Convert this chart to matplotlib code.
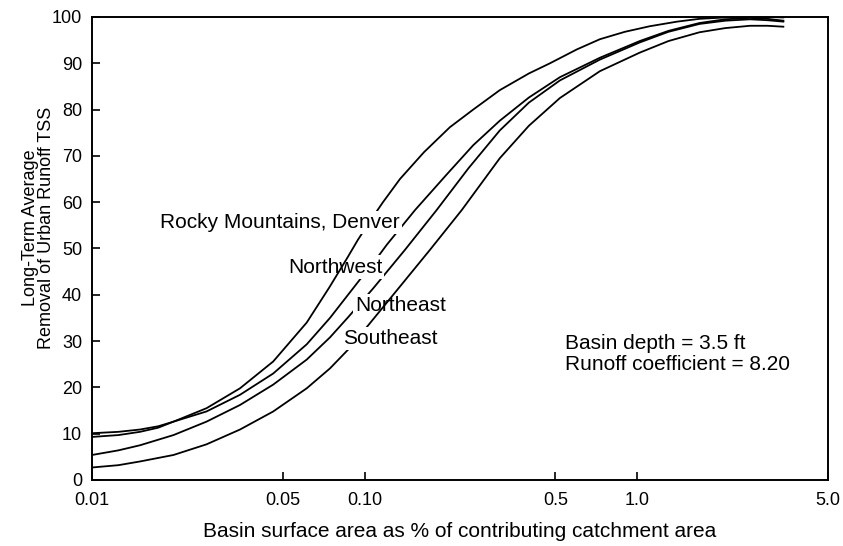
import numpy as np
import matplotlib
matplotlib.use('Agg')
import matplotlib.pyplot as plt

plt.rcParams['font.family'] = ['Liberation Sans', 'DejaVu Sans']

# values (x = % of catchment, y = % TSS removal)
rocky_x = [0.01, 0.0125, 0.015, 0.0175, 0.0199, 0.0263, 0.0349, 0.0462, 0.0613, 0.0742,
           0.086, 0.0945, 0.106, 0.1167, 0.1347, 0.165, 0.2054, 0.25, 0.313, 0.4, 0.478,
           0.6, 0.729, 0.9, 1.11, 1.4, 1.69, 2.1, 2.59, 3.0, 3.43]
rocky_y = [9.3, 9.7, 10.4, 11.3, 12.6, 15.5, 19.8, 25.6, 34.0, 41.6,
           47.8, 51.9, 56.4, 60.0, 65.0, 70.8, 76.2, 80.0, 84.2, 87.8, 90.0,
           93.0, 95.2, 96.8, 98.0, 99.0, 99.6, 99.9, 100.0, 100.0, 99.9]

northwest_x = [0.01, 0.0125, 0.015, 0.0175, 0.0199, 0.0263, 0.0349, 0.0462, 0.0613, 0.0746,
               0.0961, 0.108, 0.1205, 0.153, 0.2, 0.25, 0.313, 0.4, 0.52, 0.729, 1.02,
               1.3, 1.69, 2.1, 2.59, 3.0, 3.43]
northwest_y = [10.1, 10.4, 10.9, 11.6, 12.6, 14.8, 18.4, 23.0, 29.3, 35.0,
               43.3, 47.0, 50.8, 58.3, 66.0, 72.3, 77.6, 82.6, 87.0, 91.2, 94.8,
               97.0, 98.7, 99.5, 99.8, 99.6, 99.2]

northeast_x = [0.01, 0.0125, 0.015, 0.0199, 0.0263, 0.0349, 0.0462, 0.0613, 0.0746, 0.0871,
               0.1075, 0.1405, 0.1836, 0.24, 0.313, 0.4, 0.52, 0.729, 1.02, 1.3, 1.69,
               2.1, 2.59, 3.0, 3.43]
northeast_y = [5.4, 6.4, 7.5, 9.7, 12.6, 16.2, 20.6, 26.0, 30.8, 35.2,
               41.4, 49.7, 58.3, 67.3, 75.5, 81.5, 86.3, 90.8, 94.5, 96.8, 98.5,
               99.2, 99.5, 99.3, 99.0]

southeast_x = [0.01, 0.0125, 0.015, 0.0199, 0.0263, 0.0349, 0.0462, 0.0613, 0.0746, 0.0871,
               0.1017, 0.1335, 0.1735, 0.227, 0.313, 0.4, 0.52, 0.729, 1.02, 1.3, 1.69,
               2.1, 2.59, 3.0, 3.43]
southeast_y = [2.7, 3.2, 4.0, 5.4, 7.7, 10.9, 14.8, 19.8, 24.1, 28.2,
               33.0, 41.5, 49.7, 58.3, 69.5, 76.5, 82.5, 88.3, 92.3, 94.8, 96.7,
               97.6, 98.1, 98.1, 97.9]

xticks = [0.01, 0.05, 0.10, 0.5, 1.0, 5.0]
xtick_labels = ['0.01', '0.05', '0.10', '0.5', '1.0', '5.0']
yticks = list(range(0, 101, 10))

fig = plt.figure(figsize=(8.43, 5.46), dpi=100)
ax = fig.add_axes([0.1091, 0.1209, 0.8731, 0.848])

# A and D lie over some labels, B and C are broken by them
ax.plot(rocky_x, rocky_y, color='black', lw=1.3, zorder=4)
ax.plot(northwest_x, northwest_y, color='black', lw=1.3, zorder=2)
ax.plot(northeast_x, northeast_y, color='black', lw=1.3, zorder=2)
ax.plot(southeast_x, southeast_y, color='black', lw=1.3, zorder=4)

ax.set_xscale('log')
ax.set_xlim(0.01, 5.0)
ax.set_ylim(0, 100)
ax.set_xticks(xticks)
ax.set_xticklabels(xtick_labels)
ax.xaxis.set_minor_locator(matplotlib.ticker.NullLocator())
ax.set_yticks(yticks)
ax.tick_params(direction='in', length=6, width=1.2, labelsize=13,
               top=False, right=False)
ax.tick_params(axis='y', pad=7)
ax.tick_params(axis='x', pad=9)
for s in ax.spines.values():
    s.set_linewidth(1.4)

box = dict(facecolor='white', edgecolor='none', pad=1.5)
ax.text(0.0178, 55.7, 'Rocky Mountains, Denver', fontsize=15, va='center', ha='left',
        bbox=box, zorder=5)
ax.text(0.0523, 46, 'Northwest', fontsize=15, va='center', ha='left', bbox=box, zorder=3)
ax.text(0.0921, 37.6, 'Northeast', fontsize=15, va='center', ha='left', bbox=box, zorder=3)
ax.text(0.0832, 30.6, 'Southeast', fontsize=15, va='center', ha='left', bbox=box, zorder=5)
ax.text(0.543, 27.2, 'Basin depth = 3.5 ft\nRunoff coefficient = 8.20', fontsize=15,
        va='center', ha='left', linespacing=1.1)

ax.set_xlabel('Basin surface area as % of contributing catchment area', fontsize=15)
ax.xaxis.set_label_coords(0.5, -0.09)
ax.set_ylabel('Long-Term Average\nRemoval of Urban Runoff TSS', fontsize=13, linespacing=0.95)
ax.yaxis.set_label_coords(-0.05, 0.544)

fig.savefig('out.png', dpi=100)
